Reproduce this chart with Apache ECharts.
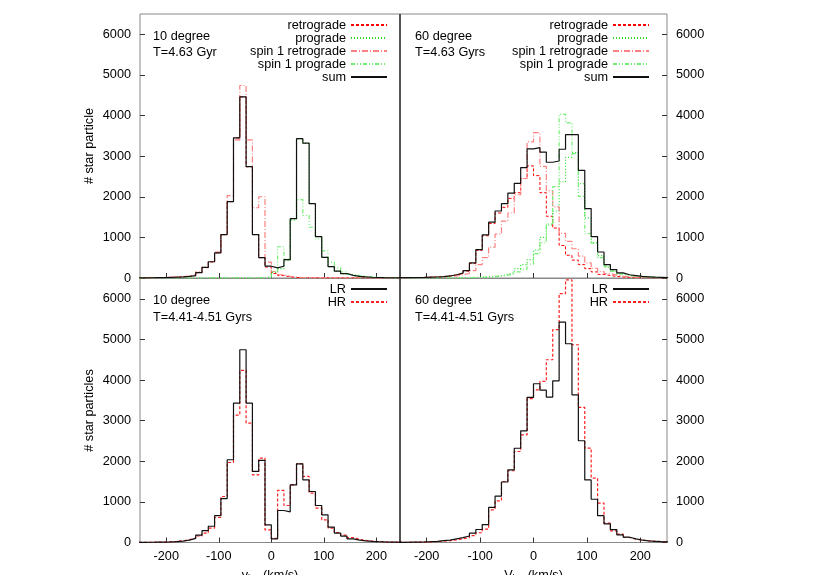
<!DOCTYPE html>
<html><head><meta charset="utf-8">
<script src="https://cdn.jsdelivr.net/npm/echarts@6/dist/echarts.min.js"></script>
<style>html,body{margin:0;padding:0;background:#fff}#c{width:830px;height:575px}</style>
</head><body><div id="c"></div>
<script>
// histogram bin edges (km/s), 12 km/s wide
const binEdges = [-252,-240,-228,-216,-204,-192,-180,-168,-156,-144,-132,-120,-108,-96,-84,-72,-60,-48,-36,-24,-12,0,12,24,36,48,60,72,84,96,108,120,132,144,156,168,180,192,204,216,228,240,252];
const xTicks = [-200,-100,0,100,200];
const yTicks = [0,1000,2000,3000,4000,5000,6000];

// Top-left: 10 degree, T=4.63 Gyr
const tlRetro   = [5,5,8,10,15,20,28,40,60,130,255,395,620,1070,1880,3450,4460,2740,1070,500,270,110,60,25,12,8,5,3,2,2,2,1,1,1,1,1,0,0,0,0,0,0];
const tlPro     = [0,0,0,0,0,0,0,0,0,0,1,2,2,3,3,4,4,5,5,10,20,140,230,425,1450,3425,3315,1828,1018,508,278,168,108,63,38,27,17,11,7,5,3,2];
const tlS1Retro = [5,6,9,12,18,25,35,50,80,150,270,400,640,1070,2030,3400,4740,3400,1730,2000,390,160,80,40,20,10,6,4,3,2,2,2,1,1,1,1,1,0,0,0,0,0];
const tlS1Pro   = [0,0,0,0,0,0,0,0,0,0,1,1,2,2,3,3,3,3,5,10,30,160,770,460,1420,1930,1540,1250,960,670,390,250,150,90,60,40,25,15,10,6,4,3];
const tlSum     = [5,5,8,10,15,20,28,40,60,130,260,400,620,1070,1880,3450,4460,2740,1070,500,290,250,290,450,1460,3430,3320,1830,1020,510,280,170,110,65,40,28,18,12,8,5,4,3];

// Top-right: 60 degree, T=4.63 Gyrs
const trRetro   = [8,10,12,15,20,25,35,50,75,110,170,355,680,1040,1340,1600,1740,1960,2100,2450,2760,2520,2100,1520,1230,800,560,440,330,230,150,90,60,40,25,15,10,7,5,4,3,2];
const trPro     = [0,0,0,0,0,0,0,0,2,5,8,15,20,25,40,55,90,130,230,330,450,690,1000,1330,1650,2370,2970,3090,2320,1480,870,550,270,165,100,65,50,33,25,16,12,8];
const trS1Retro = [5,6,8,10,14,18,25,35,50,80,110,180,330,500,760,1080,1400,1600,2050,2450,3350,3580,2750,2150,1750,1100,900,720,540,370,240,160,110,70,45,30,20,14,10,7,5,3];
const trS1Pro   = [0,0,0,0,1,2,3,4,5,6,8,12,18,25,35,50,70,100,150,220,340,600,870,1300,2250,4030,3820,3060,2010,1090,860,500,290,170,100,65,45,30,20,14,10,7];
const trSum     = [8,10,12,15,20,25,35,50,80,120,180,370,700,1060,1375,1650,1830,2090,2330,2720,3180,3210,3100,2850,2880,3170,3530,3530,2650,1710,1020,640,330,205,125,80,60,40,30,20,15,10];

// Bottom-left: 10 degree, T=4.41-4.51 Gyrs
const blLR = [5,6,8,10,15,22,35,60,100,180,290,400,660,1080,2037,3433,4746,3433,1749,2020,436,91,788,756,1421,1938,1544,1256,911,682,379,231,158,91,60,40,28,20,14,10,7,5];
const blHR = [5,6,8,12,18,28,40,70,110,160,231,354,616,1133,1970,3137,4237,2940,1667,2078,313,100,1281,911,1421,1938,1626,1217,847,559,354,246,182,120,80,50,35,24,16,11,8,5];

// Bottom-right: 60 degree, T=4.41-4.51 Gyrs
const brLR = [5,8,10,15,22,30,45,60,90,120,160,230,320,440,865,1140,1490,1790,2320,2750,3575,3909,3750,3580,3980,5425,4894,3635,2505,1540,1065,660,460,315,190,130,90,60,40,30,20,15];
const brHR = [4,6,8,10,15,22,32,45,65,90,120,170,240,330,805,1027,1502,1766,2241,2650,3540,3760,3966,4500,5240,6126,6466,4869,3325,2325,1586,970,478,288,207,123,80,60,40,30,20,15];

const FONT = 'Liberation Sans, Arial, Helvetica, sans-serif';
const FS = 12.7;

function steps(vals){
  const d = vals.map((v,i)=>[binEdges[i], v]);
  d.push([binEdges[vals.length], vals[vals.length-1]]);
  return d;
}
function ser(name, vals, idx, color, type, width, z){
  return {name, type:'line', step:'end', xAxisIndex:idx, yAxisIndex:idx, data:steps(vals),
    symbol:'none', showSymbol:false, silent:true, animation:false, z:z||2,
    lineStyle:{color, type, width}, itemStyle:{color}};
}
const RET = ['#ff0000',[3,2],1];
const PRO = ['#22dd22',[1,2],1.2];
const S1R = ['#ff8080',[6,2,1,2],1.2];
const S1P = ['#70ee70',[4,2,1,2,1,2],1.2];
const SUM = ['#111111','solid',1.2];
const LRs = ['#111111','solid',1.2];
const HRs = ['#ff2020',[3,2],1.2];

const grids = [
  {left:140, top:14, width:260, height:264},
  {left:400, top:14, width:267, height:264},
  {left:140, top:278.5, width:260, height:264},
  {left:400, top:278.5, width:267, height:264}
].map(g=>Object.assign(g,{show:true, borderColor:'#888', borderWidth:1, backgroundColor:'transparent',
  containLabel:false, outerBoundsMode:'none'}));

function xAx(i, min, max, labels, name){
  return {type:'value', gridIndex:i, min, max, position:'bottom',
    axisLine:{show:false, onZero:false}, splitLine:{show:false},
    axisTick:{show:true, inside:true, length:5, customValues:xTicks, lineStyle:{color:'#333'}},
    axisLabel:{show:labels, customValues:xTicks, margin:7, color:'#000', fontSize:FS, fontFamily:FONT,
      formatter:(v)=>String(v)},
    name: name || '', nameLocation:'middle', nameGap:24,
    nameTextStyle:{color:'#000', fontSize:FS, fontFamily:FONT,
      rich:{v:{fontSize:FS, fontFamily:FONT, color:'#000'}, s:{fontSize:9, fontFamily:FONT, color:'#000', padding:[8,0,0,0]}}}
  };
}
function yAx(i, pos, name){
  return {type:'value', gridIndex:i, min:0, max:6500, position:pos,
    axisLine:{show:false, onZero:false}, splitLine:{show:false},
    axisTick:{show:true, inside:true, length:5, customValues:yTicks, lineStyle:{color:'#333'}},
    axisLabel:{customValues:yTicks, margin:9, color:'#000', fontSize:FS, fontFamily:FONT,
      formatter:(v)=>String(v)},
    name: name || '', nameLocation:'middle', nameGap:44, nameRotate:90,
    nameTextStyle:{color:'#000', fontSize:FS, fontFamily:FONT}
  };
}

const legBase = {orient:'vertical', align:'right', itemWidth:36, itemHeight:10, itemGap:0, padding:0,
  selectedMode:false, itemStyle:{opacity:0},
  textStyle:{fontSize:FS, fontFamily:FONT, color:'#000', lineHeight:13}};
const topNames = ['retrograde','prograde','spin 1 retrograde','spin 1 prograde','sum'];

const option = {
  animation:false,
  grid: grids,
  xAxis:[xAx(0,-250,245,false), xAx(1,-250,250,false),
         xAx(2,-250,245,true,'{v|v}{s|los}{v| (km/s)}'), xAx(3,-250,250,true,'{v|V}{s|los}{v| (km/s)}')],
  yAxis:[yAx(0,'left','# star particle'), yAx(1,'right'), yAx(2,'left','# star particles'), yAx(3,'right')],
  legend:[
    Object.assign({}, legBase, {right:442, top:18.5, data:topNames}),
    Object.assign({}, legBase, {right:180, top:18.5, data:topNames}),
    Object.assign({}, legBase, {right:442, top:282.5, data:['LR','HR']}),
    Object.assign({}, legBase, {right:180, top:282.5, data:['LR','HR']})
  ],
  series:[
    ser('retrograde', tlRetro, 0, ...RET), ser('prograde', tlPro, 0, ...PRO),
    ser('spin 1 retrograde', tlS1Retro, 0, ...S1R), ser('spin 1 prograde', tlS1Pro, 0, ...S1P),
    ser('sum', tlSum, 0, ...SUM, 5),
    ser('retrograde', trRetro, 1, ...RET), ser('prograde', trPro, 1, ...PRO),
    ser('spin 1 retrograde', trS1Retro, 1, ...S1R), ser('spin 1 prograde', trS1Pro, 1, ...S1P),
    ser('sum', trSum, 1, ...SUM, 5),
    ser('LR', blLR, 2, ...LRs, 5), ser('HR', blHR, 2, ...HRs, 4),
    ser('LR', brLR, 3, ...LRs, 5), ser('HR', brHR, 3, ...HRs, 4)
  ],
  graphic:[
    {type:'line', shape:{x1:400, y1:14, x2:400, y2:543}, style:{stroke:'#000', lineWidth:1}, z:100},
    {type:'text', x:153, y:36, style:{text:'10 degree', font:FS+'px '+FONT, fill:'#000', textVerticalAlign:'middle'}},
    {type:'text', x:153, y:52, style:{text:'T=4.63 Gyr', font:FS+'px '+FONT, fill:'#000', textVerticalAlign:'middle'}},
    {type:'text', x:415, y:36, style:{text:'60 degree', font:FS+'px '+FONT, fill:'#000', textVerticalAlign:'middle'}},
    {type:'text', x:415, y:52, style:{text:'T=4.63 Gyrs', font:FS+'px '+FONT, fill:'#000', textVerticalAlign:'middle'}},
    {type:'text', x:153, y:300, style:{text:'10 degree', font:FS+'px '+FONT, fill:'#000', textVerticalAlign:'middle'}},
    {type:'text', x:153, y:317, style:{text:'T=4.41-4.51 Gyrs', font:FS+'px '+FONT, fill:'#000', textVerticalAlign:'middle'}},
    {type:'text', x:415, y:300, style:{text:'60 degree', font:FS+'px '+FONT, fill:'#000', textVerticalAlign:'middle'}},
    {type:'text', x:415, y:317, style:{text:'T=4.41-4.51 Gyrs', font:FS+'px '+FONT, fill:'#000', textVerticalAlign:'middle'}}
  ]
};
const chart = echarts.init(document.getElementById('c'), null, {renderer:'canvas'});
chart.setOption(option);
</script>
</body></html>
